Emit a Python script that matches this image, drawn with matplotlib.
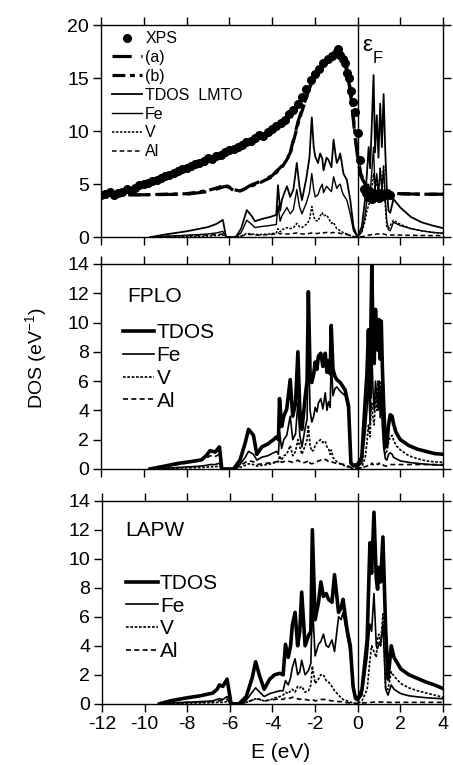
import matplotlib
matplotlib.use("Agg")
import matplotlib.pyplot as plt

plt.rcParams['font.family'] = ['Liberation Sans', 'DejaVu Sans']
plt.rcParams['mathtext.default'] = 'regular'
plt.rcParams['axes.unicode_minus'] = False

# ---- XPS spectrum and broadened curves (top panel) ----
xps_E = [-12.0, -11.8, -11.6, -11.4, -11.2, -11.0, -10.8, -10.6, -10.4, -10.2,
         -10.0, -9.8, -9.6, -9.4, -9.2, -9.0, -8.8, -8.6, -8.4, -8.2,
         -8.0, -7.8, -7.6, -7.4, -7.2, -7.0, -6.8, -6.6, -6.4, -6.2,
         -6.0, -5.8, -5.6, -5.4, -5.2, -5.0, -4.8, -4.6, -4.4, -4.2,
         -4.0, -3.8, -3.6, -3.4, -3.2, -3.0, -2.8, -2.6, -2.4, -2.2,
         -2.0, -1.8, -1.6, -1.4, -1.2, -1.0, -0.9, -0.8, -0.7, -0.6,
         -0.5, -0.4, -0.3, -0.2, -0.1, 0.0, 0.1, 0.3, 0.4, 0.5,
         0.6, 0.7, 0.8, 0.9, 1.0, 1.1, 1.2, 1.3, 1.4, 1.5]
xps_I = [4.0, 4.1, 4.3, 4.0, 4.2, 4.3, 4.5, 4.4, 4.6, 4.9,
         5.0, 5.1, 5.3, 5.4, 5.6, 5.8, 5.9, 6.1, 6.2, 6.4,
         6.5, 6.7, 6.9, 7.0, 7.2, 7.5, 7.4, 7.7, 7.8, 8.0,
         8.2, 8.3, 8.5, 8.7, 9.0, 9.1, 9.4, 9.6, 9.5, 9.9,
         10.2, 10.5, 10.8, 11.1, 11.6, 12.0, 12.6, 13.2, 14.0, 14.8,
         15.4, 15.9, 16.4, 16.8, 17.1, 17.4, 17.8, 17.2, 16.8, 16.4,
         15.5, 15.0, 13.8, 12.8, 11.8, 9.8, 7.3, 4.5, 4.2, 3.8,
         4.0, 3.6, 3.9, 4.1, 3.7, 4.2, 3.9, 4.0, 4.2, 4.0]

curve_E = [-12.0, -10.0, -8.0, -7.0, -6.5, -6.2, -6.0, -5.8, -5.5, -5.0,
           -4.5, -4.0, -3.5, -3.16, -2.77, -2.5, -2.22, -2.0, -1.75, -1.4,
           -1.2, -0.97, -0.75, -0.51, -0.4, -0.27, -0.12, 0.04, 0.15, 0.35,
           0.6, 1.0, 2.0, 3.0, 4.0]
curve_a = [4.0, 4.0, 4.05, 4.3, 4.6, 4.8, 4.7, 4.4, 4.3, 4.9,
           5.3, 5.8, 6.8, 7.9, 11.0, 12.6, 14.2, 15.0, 15.8, 16.5,
           16.8, 17.0, 16.8, 15.8, 14.5, 12.6, 9.5, 7.0, 5.8, 5.0,
           4.4, 4.2, 4.1, 4.05, 4.05]
curve_b = [4.0, 4.0, 4.1, 4.4, 4.7, 4.9, 4.75, 4.5, 4.35, 4.8,
           5.2, 5.7, 6.7, 7.8, 10.8, 12.5, 14.3, 15.2, 16.0, 16.7,
           17.0, 17.2, 17.0, 16.0, 14.8, 12.9, 9.8, 7.3, 6.0, 5.1,
           4.5, 4.25, 4.1, 4.05, 4.05]

# ---- LMTO partial DOS ----
lmto_E = [-9.7, -9.0, -8.0, -7.0, -6.6, -6.3, -6.15, -5.7, -5.45, -5.18,
          -4.95, -4.8, -4.5, -4.1, -3.8, -3.72, -3.62, -3.54, -3.42, -3.3,
          -3.15, -3.0, -2.84, -2.72, -2.6, -2.4, -2.25, -2.14, -2.05, -1.98,
          -1.85, -1.75, -1.65, -1.59, -1.45, -1.36, -1.22, -1.12, -1.03, -0.97,
          -0.88, -0.81, -0.72, -0.66, -0.5, -0.34, -0.19, 0.0, 0.2, 0.35,
          0.44, 0.52, 0.59, 0.66, 0.75, 0.82, 0.9, 0.98, 1.06, 1.14,
          1.22, 1.3, 1.37, 1.45, 1.53, 1.68, 2.0, 2.5, 3.0, 3.5,
          4.0]
lmto_tdos = [0, 0.25, 0.55, 0.95, 1.25, 1.63, 0, 0, 0.8, 2.55,
             2.0, 1.5, 1.7, 1.9, 2.1, 4.9, 2.5, 3.5, 4.2, 4.8,
             3.8, 4.5, 7.0, 4.8, 3.5, 5.5, 7.5, 11.3, 8.5, 7.6,
             7.0, 7.9, 7.4, 6.3, 7.5, 7.3, 6.6, 9.2, 7.8, 7.0,
             7.4, 7.9, 6.8, 6.0, 5.4, 3.5, 1.0, 0.0, 1.0, 3.5,
             6.0, 8.5, 6.5, 10.2, 15.3, 8.0, 11.5, 7.5, 12.6, 8.5,
             13.5, 8.0, 4.5, 2.5, 2.3, 3.6, 2.8, 1.9, 1.4, 1.1,
             0.85]
lmto_fe = [0, 0.08, 0.18, 0.3, 0.4, 0.55, 0, 0, 0.4, 1.6,
           1.2, 0.9, 1.0, 1.1, 1.2, 3.0, 1.5, 2.0, 2.4, 2.8,
           2.2, 2.6, 4.5, 2.9, 2.2, 3.2, 4.2, 6.0, 4.5, 3.8,
           4.0, 4.6, 5.0, 4.2, 4.8, 4.6, 4.3, 5.7, 5.0, 4.6,
           4.9, 5.0, 4.3, 4.0, 3.5, 2.2, 0.6, 0.0, 0.5, 2.0,
           3.5, 5.0, 4.0, 6.0, 8.5, 4.5, 6.0, 4.0, 6.5, 4.5,
           6.5, 3.5, 1.5, 0.7, 0.6, 1.4, 1.1, 0.8, 0.6, 0.45,
           0.38]
lmto_v = [0, 0.03, 0.06, 0.1, 0.15, 0.2, 0, 0, 0.1, 0.35,
          0.3, 0.25, 0.25, 0.3, 0.4, 0.8, 0.5, 0.7, 0.8, 0.9,
          0.8, 0.9, 1.3, 1.0, 0.9, 1.2, 1.6, 2.9, 2.0, 1.6,
          1.5, 2.0, 2.3, 2.0, 2.1, 1.8, 1.3, 1.4, 1.0, 0.8,
          0.7, 0.6, 0.5, 0.4, 0.3, 0.15, 0.05, 0.0, 0.5, 1.5,
          2.5, 3.0, 3.5, 4.5, 6.0, 4.5, 5.5, 4.0, 6.5, 4.5,
          6.8, 3.0, 1.0, 0.8, 1.1, 1.6, 1.2, 0.8, 0.6, 0.45,
          0.35]
lmto_al = [0, 0.08, 0.15, 0.2, 0.25, 0.3, 0, 0, 0.1, 0.25,
           0.25, 0.2, 0.2, 0.25, 0.3, 0.4, 0.3, 0.35, 0.3, 0.3,
           0.3, 0.35, 0.4, 0.35, 0.3, 0.3, 0.35, 0.4, 0.35, 0.35,
           0.35, 0.4, 0.45, 0.4, 0.45, 0.4, 0.4, 0.45, 0.4, 0.4,
           0.4, 0.35, 0.3, 0.3, 0.25, 0.15, 0.05, 0.0, 0.05, 0.1,
           0.15, 0.2, 0.2, 0.25, 0.3, 0.25, 0.3, 0.3, 0.3, 0.3,
           0.3, 0.25, 0.2, 0.2, 0.2, 0.2, 0.2, 0.18, 0.16, 0.15,
           0.15]

# ---- FPLO ----
fplo_E = [-9.7, -9.0, -8.4, -7.8, -7.3, -7.05, -6.9, -6.66, -6.46, -6.35,
          -5.8, -5.5, -5.25, -5.1, -4.87, -4.71, -4.48, -4.2, -3.93, -3.78,
          -3.7, -3.65, -3.55, -3.45, -3.31, -3.15, -3.03, -2.9, -2.79, -2.7,
          -2.6, -2.45, -2.36, -2.3, -2.22, -2.14, -2.05, -1.98, -1.9, -1.83,
          -1.72, -1.62, -1.51, -1.43, -1.36, -1.28, -1.23, -1.15, -1.05, -0.97,
          -0.81, -0.58, -0.42, -0.31, -0.19, 0.0, 0.2, 0.36, 0.44, 0.51,
          0.59, 0.63, 0.67, 0.72, 0.78, 0.84, 0.9, 0.96, 1.01, 1.06,
          1.11, 1.16, 1.22, 1.3, 1.37, 1.45, 1.53, 1.62, 1.68, 1.8,
          2.0, 2.4, 2.8, 3.2, 3.6, 4.0]
fplo_tdos = [0, 0.2, 0.38, 0.5, 0.62, 0.95, 1.25, 1.15, 1.5, 0,
             0, 0.6, 1.8, 2.7, 2.3, 1.0, 1.5, 1.7, 2.0, 2.2,
             2.0, 4.8, 2.9, 3.6, 4.1, 6.1, 3.6, 4.5, 8.0, 4.0,
             2.7, 4.9, 6.0, 12.1, 6.5, 5.9, 6.5, 7.3, 6.8, 7.7,
             7.9, 7.0, 7.9, 6.6, 7.4, 6.5, 9.8, 6.8, 6.3, 6.1,
             5.9, 5.4, 4.3, 0.4, 0.25, 0.3, 0.8, 4.7, 6.5, 9.5,
             4.9, 10.3, 14.0, 9.0, 7.2, 10.9, 9.0, 8.1, 10.2, 7.5,
             10.1, 7.0, 4.5, 1.5, 1.6, 3.0, 3.7, 3.6, 3.1, 2.5,
             2.0, 1.6, 1.35, 1.2, 1.05, 1.0]
fplo_fe = [0, 0.05, 0.1, 0.15, 0.2, 0.25, 0.3, 0.3, 0.4, 0,
           0, 0.3, 0.8, 1.2, 1.0, 0.6, 0.8, 0.9, 1.1, 1.2,
           1.0, 2.5, 1.4, 2.0, 2.3, 3.6, 2.0, 2.4, 4.5, 2.3,
           1.5, 2.8, 3.4, 9.0, 4.0, 3.2, 3.6, 4.2, 3.9, 4.5,
           4.8, 4.1, 5.2, 4.0, 4.6, 4.2, 7.5, 5.0, 5.5, 5.6,
           5.3, 5.0, 4.0, 0.3, 0.15, 0.15, 0.4, 2.5, 4.0, 6.0,
           3.0, 6.5, 8.0, 5.5, 4.0, 6.0, 5.0, 4.0, 6.0, 3.5,
           5.5, 3.0, 1.5, 0.7, 0.6, 1.0, 1.1, 1.0, 0.8, 0.7,
           0.55, 0.45, 0.38, 0.32, 0.28, 0.25]
fplo_v = [0, 0.02, 0.05, 0.08, 0.1, 0.12, 0.15, 0.15, 0.2, 0,
          0, 0.1, 0.25, 0.35, 0.3, 0.2, 0.25, 0.3, 0.4, 0.5,
          0.5, 0.9, 0.6, 0.9, 1.0, 1.6, 0.9, 1.2, 2.0, 1.5,
          1.0, 1.6, 2.0, 3.0, 1.6, 1.2, 1.3, 1.6, 1.8, 1.9,
          2.0, 1.8, 1.9, 1.5, 1.4, 1.0, 1.3, 0.8, 0.6, 0.5,
          0.35, 0.2, 0.12, 0.05, 0.03, 0.02, 0.1, 0.8, 1.8, 3.0,
          2.2, 4.0, 4.5, 3.5, 3.0, 5.0, 4.0, 6.0, 4.0, 5.0,
          6.0, 3.5, 2.0, 1.0, 1.2, 1.8, 2.2, 2.3, 2.0, 1.6,
          1.3, 0.9, 0.7, 0.55, 0.48, 0.45]
fplo_al = [0, 0.15, 0.3, 0.45, 0.6, 0.75, 0.9, 0.85, 1.0, 0,
           0, 0.2, 0.45, 0.55, 0.5, 0.3, 0.35, 0.4, 0.45, 0.5,
           0.5, 0.6, 0.45, 0.5, 0.55, 0.5, 0.45, 0.5, 0.6, 0.5,
           0.4, 0.45, 0.5, 0.6, 0.4, 0.35, 0.4, 0.45, 0.5, 0.55,
           0.6, 0.55, 0.65, 0.6, 0.5, 0.45, 0.5, 0.45, 0.4, 0.4,
           0.35, 0.3, 0.2, 0.1, 0.05, 0.05, 0.1, 0.15, 0.2, 0.25,
           0.2, 0.3, 0.4, 0.3, 0.3, 0.4, 0.35, 0.3, 0.4, 0.35,
           0.4, 0.3, 0.25, 0.2, 0.2, 0.25, 0.3, 0.3, 0.3, 0.3,
           0.3, 0.3, 0.3, 0.3, 0.3, 0.3]

# ---- LAPW ----
lapw_E = [-9.3, -8.8, -8.06, -7.4, -6.8, -6.6, -6.49, -6.33, -6.13, -5.94,
          -5.57, -5.23, -4.95, -4.79, -4.6, -4.39, -4.13, -3.9, -3.65, -3.5,
          -3.39, -3.26, -3.15, -3.07, -2.94, -2.82, -2.72, -2.63, -2.47, -2.31,
          -2.2, -2.13, -2.0, -1.84, -1.73, -1.61, -1.48, -1.37, -1.21, -1.09,
          -0.9, -0.78, -0.69, -0.5, -0.35, -0.22, -0.11, 0.0, 0.2, 0.44,
          0.57, 0.65, 0.76, 0.87, 0.93, 0.99, 1.07, 1.18, 1.31, 1.42,
          1.57, 1.7, 2.02, 2.4, 2.8, 3.2, 3.6, 4.0]
lapw_tdos = [0, 0.2, 0.4, 0.55, 0.74, 1.0, 1.3, 1.2, 1.7, 0,
             0, 0.5, 1.8, 2.9, 1.9, 1.0, 1.7, 2.0, 2.1, 2.0,
             4.1, 3.2, 4.0, 5.4, 6.3, 4.0, 5.0, 7.7, 4.0, 4.7,
             5.0, 12.0, 5.8, 7.0, 8.4, 7.4, 7.6, 7.2, 7.0, 8.9,
             6.3, 6.6, 7.2, 5.1, 4.0, 1.2, 0.4, 0.3, 1.0, 4.4,
             11.1, 9.0, 13.2, 8.6, 7.9, 9.4, 8.4, 11.5, 5.1, 1.7,
             4.0, 3.2, 2.4, 2.0, 1.75, 1.5, 1.3, 1.05]
lapw_fe = [0, 0.05, 0.1, 0.15, 0.2, 0.3, 0.35, 0.3, 0.5, 0,
           0, 0.25, 0.8, 1.1, 0.8, 0.5, 0.7, 0.8, 0.9, 0.9,
           1.6, 1.3, 1.8, 2.5, 3.1, 2.0, 2.2, 3.0, 2.0, 2.3,
           2.8, 7.0, 3.3, 4.1, 4.3, 4.8, 4.0, 3.9, 4.4, 3.6,
           6.0, 5.8, 6.3, 4.7, 3.5, 1.0, 0.3, 0.2, 0.6, 3.2,
           5.5, 5.0, 7.6, 4.0, 3.8, 4.2, 4.0, 5.5, 1.0, 0.6,
           1.3, 1.0, 0.7, 0.55, 0.48, 0.42, 0.38, 0.35]
lapw_v = [0, 0.02, 0.04, 0.06, 0.08, 0.1, 0.1, 0.1, 0.15, 0,
          0, 0.1, 0.25, 0.35, 0.3, 0.2, 0.25, 0.4, 0.5, 0.6,
          0.8, 0.7, 0.9, 1.0, 0.8, 1.2, 1.1, 1.2, 0.8, 0.9,
          1.3, 2.6, 1.4, 1.7, 2.0, 2.0, 1.6, 1.5, 1.2, 0.9,
          0.6, 0.4, 0.3, 0.2, 0.12, 0.05, 0.03, 0.03, 0.2, 1.0,
          3.0, 4.0, 3.6, 3.2, 4.6, 4.8, 4.0, 6.2, 1.0, 1.0,
          2.2, 1.9, 1.4, 1.1, 0.9, 0.75, 0.6, 0.45]
lapw_al = [0, 0.05, 0.1, 0.12, 0.15, 0.2, 0.2, 0.25, 0.3, 0,
           0, 0.1, 0.25, 0.35, 0.3, 0.2, 0.25, 0.3, 0.35, 0.3,
           0.4, 0.35, 0.4, 0.45, 0.4, 0.35, 0.3, 0.35, 0.3, 0.25,
           0.25, 0.3, 0.2, 0.25, 0.3, 0.3, 0.3, 0.25, 0.2, 0.2,
           0.15, 0.15, 0.1, 0.08, 0.06, 0.05, 0.03, 0.03, 0.05, 0.08,
           0.1, 0.1, 0.12, 0.12, 0.12, 0.12, 0.12, 0.12, 0.1, 0.1,
           0.1, 0.1, 0.1, 0.1, 0.1, 0.1, 0.1, 0.1]

xticks = [-12, -10, -8, -6, -4, -2, 0, 2, 4]

V_STYLE = (0, (1.6, 1.0))
AL_STYLE = (0, (3.0, 2.0))

fig = plt.figure(figsize=(4.53, 7.65), dpi=100)
ax1 = fig.add_axes([0.223, 0.690, 0.755, 0.277])
ax2 = fig.add_axes([0.223, 0.387, 0.755, 0.268])
ax3 = fig.add_axes([0.225, 0.080, 0.753, 0.2655])


def style_axis(ax, ymax, yticks, show_x):
    ax.set_xlim(-12, 4)
    ax.set_ylim(0, ymax)
    ax.set_xticks(xticks)
    ax.set_yticks(yticks)
    ax.tick_params(direction='out', length=5.5, width=1.0, top=True, right=True,
                   labelsize=14, pad=3, labelbottom=show_x)
    for s in ax.spines.values():
        s.set_linewidth(1.0)
    ax.axvline(0, color='black', lw=1.0, zorder=1)


# top panel: XPS + LMTO
ax1.plot(xps_E, xps_I, 'o', color='black', ms=5.5, label='XPS', zorder=5)
ax1.plot(curve_E, curve_a, color='black', lw=2.3, ls=(0, (6, 3)), label='(a)')
ax1.plot(curve_E, curve_b, color='black', lw=2.3, ls=(0, (4, 1.5, 1.5, 1.5)), label='(b)')
ax1.plot(lmto_E, lmto_tdos, color='black', lw=1.3, label='TDOS  LMTO')
ax1.plot(lmto_E, lmto_fe, color='black', lw=1.0, label='Fe')
ax1.plot(lmto_E, lmto_v, color='black', lw=1.1, ls=V_STYLE, label='V')
ax1.plot(lmto_E, lmto_al, color='black', lw=1.1, ls=AL_STYLE, label='Al')
style_axis(ax1, 20, [0, 5, 10, 15, 20], False)
ax1.legend(loc='upper left', bbox_to_anchor=(0.031, 0.972), frameon=False,
           fontsize=11.5, numpoints=1, handlelength=1.9, handletextpad=0.2,
           labelspacing=0.24, borderpad=0, borderaxespad=0)
ax1.text(0.22, 18.1, 'ε', fontsize=16, va='center', ha='left')
ax1.text(0.7, 16.9, 'F', fontsize=12, va='center', ha='left')

# middle / bottom panels
for ax, E, tdos, fe, v, al, name, lab_xy, leg_xy in [
        (ax2, fplo_E, fplo_tdos, fplo_fe, fplo_v, fplo_al, 'FPLO', (0.078, 0.84), (0.065, 0.71)),
        (ax3, lapw_E, lapw_tdos, lapw_fe, lapw_v, lapw_al, 'LAPW', (0.067, 0.852), (0.072, 0.64))]:
    ax.plot(E, tdos, color='black', lw=2.6, label='TDOS')
    ax.plot(E, fe, color='black', lw=1.2, label='Fe')
    ax.plot(E, v, color='black', lw=1.2, ls=V_STYLE, label='V')
    ax.plot(E, al, color='black', lw=1.2, ls=AL_STYLE, label='Al')
    style_axis(ax, 14, list(range(0, 15, 2)), ax is ax3)
    ax.text(lab_xy[0], lab_xy[1], name, transform=ax.transAxes, fontsize=15,
            va='center', ha='left')
    ax.legend(loc='upper left', bbox_to_anchor=leg_xy, frameon=False,
              fontsize=15, handlelength=1.5, handletextpad=0.1,
              labelspacing=0.18, borderpad=0, borderaxespad=0)

fig.text(36 / 453, 1 - 358 / 765, 'DOS (eV$^{-1}$)', rotation=90, fontsize=14,
         ha='center', va='center')
fig.text(281 / 453, 1 - 752 / 765, 'E (eV)', fontsize=15, ha='center', va='center')

fig.savefig('out.png', dpi=100)
